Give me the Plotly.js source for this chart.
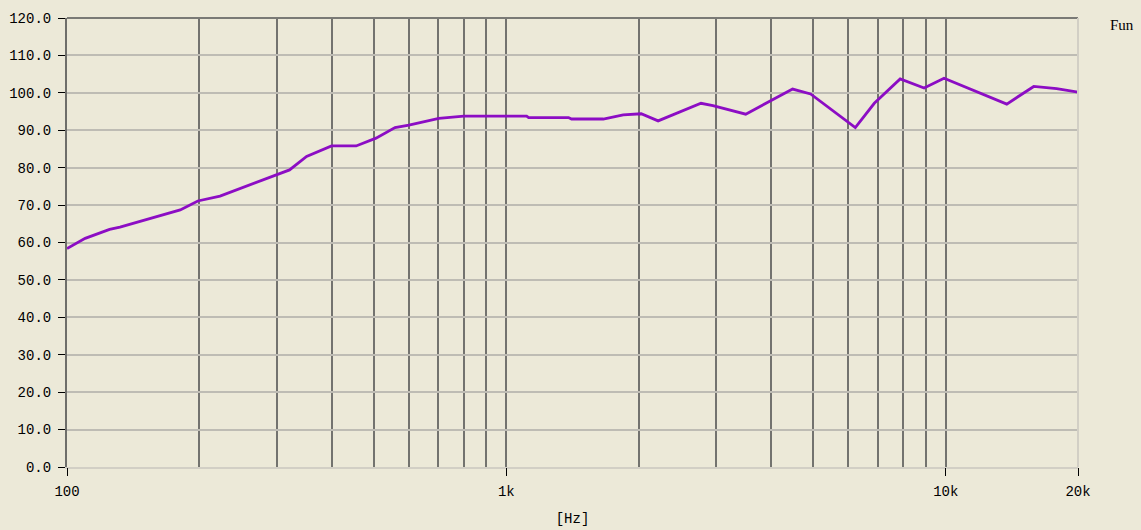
<!DOCTYPE html>
<html>
<head>
<meta charset="utf-8">
<script src="https://cdn.plot.ly/plotly-3.0.1.min.js"></script>
<style>
  html, body { margin: 0; padding: 0; background: #ECE9D8; }
  #chart { width: 1141px; height: 530px; }
</style>
</head>
<body>
<div id="chart"></div>
<script>
// Frequency (Hz) and level values
const freqHz = [100, 110, 125, 132, 181, 198.5, 223, 300, 321, 351, 400, 455, 505, 558, 600, 702, 800, 1000, 1112, 1124, 1385, 1407, 1662, 1845, 2027, 2215, 2773, 2952, 3506, 4482, 4925, 6226, 6877, 7876, 8929, 9911, 11180, 13770, 15860, 17880, 20000];
const level  = [58.4, 61.1, 63.5, 64.1, 68.7, 71.1, 72.4, 78.1, 79.4, 83.0, 85.8, 85.8, 87.9, 90.7, 91.4, 93.2, 93.8, 93.8, 93.8, 93.4, 93.4, 93.0, 93.0, 94.1, 94.4, 92.5, 97.2, 96.6, 94.3, 101.0, 99.7, 90.7, 97.2, 103.7, 101.3, 103.9, 101.3, 97.0, 101.7, 101.1, 100.2];

const yTickVals = [0, 10, 20, 30, 40, 50, 60, 70, 80, 90, 100, 110, 120];
const yTickText = ["0.0", "10.0", "20.0", "30.0", "40.0", "50.0", "60.0", "70.0", "80.0", "90.0", "100.0", "110.0", "120.0"];
const xLabelVals = [100, 1000, 10000, 20000];
const xLabelText = ["100", "1k", "10k", "20k"];
const xGridVals = [200, 300, 400, 500, 600, 700, 800, 900, 1000, 2000, 3000, 4000, 5000, 6000, 7000, 8000, 9000, 10000];
const seriesName = "Fun";

const font = {family: "Liberation Mono, DejaVu Sans Mono, monospace", size: 14, color: "#000000"};
const xRange = [Math.log10(100), Math.log10(20000)];

const traces = [
  {
    x: freqHz, y: level, type: "scatter", mode: "lines",
    line: {color: "#8C0DC4", width: 2.8},
    xaxis: "x", yaxis: "y", hoverinfo: "x+y", showlegend: false
  },
  {
    x: freqHz, y: level, type: "scatter", mode: "lines",
    line: {color: "rgba(0,0,0,0)", width: 0},
    xaxis: "x2", yaxis: "y", hoverinfo: "skip", showlegend: false
  }
];

const layout = {
  width: 1141, height: 530,
  paper_bgcolor: "#ECE9D8",
  plot_bgcolor: "#ECE9D8",
  margin: {l: 67, r: 63, t: 18, b: 63},
  font: font,
  showlegend: false,
  xaxis: {
    type: "log", range: xRange,
    tickmode: "array", tickvals: xGridVals,
    showticklabels: false, ticks: "",
    showgrid: true, gridcolor: "#73736F", gridwidth: 2,
    zeroline: false,
    showline: true, linecolor: "#D2CFC5", linewidth: 2,
    fixedrange: true
  },
  xaxis2: {
    type: "log", range: xRange,
    overlaying: "x", anchor: "y", side: "bottom",
    tickmode: "array", tickvals: xLabelVals, ticktext: xLabelText,
    ticks: "outside", ticklen: 8, tickwidth: 1, tickcolor: "#000000",
    ticklabelstandoff: 3,
    showgrid: false, zeroline: false, showline: false,
    tickfont: font,
    title: {text: "[Hz]", font: font, standoff: 14},
    fixedrange: true
  },
  yaxis: {
    range: [0, 120],
    tickmode: "array", tickvals: yTickVals, ticktext: yTickText,
    ticks: "outside", ticklen: 7, tickwidth: 1, tickcolor: "#000000",
    ticklabelstandoff: 4,
    showgrid: true, gridcolor: "#BEBCB4", gridwidth: 2,
    zeroline: false,
    showline: true, linecolor: "#6E6E6A", linewidth: 2,
    tickfont: font,
    fixedrange: true
  },
  shapes: [
    {type: "line", xref: "paper", yref: "paper", x0: 0, x1: 1, y0: 1, y1: 1,
     line: {color: "#7A7A76", width: 2}, layer: "above"},
    {type: "line", xref: "paper", yref: "paper", x0: 1, x1: 1, y0: 0, y1: 1,
     line: {color: "#D2CFC5", width: 2}, layer: "above"}
  ],
  annotations: [
    {text: seriesName, xref: "paper", yref: "paper", x: 1.03, y: 0.985,
     xanchor: "left", yanchor: "middle", showarrow: false,
     font: {family: "Liberation Serif, serif", size: 15, color: "#000000"}}
  ]
};

Plotly.newPlot("chart", traces, layout, {displayModeBar: false, staticPlot: true});
</script>
</body>
</html>
